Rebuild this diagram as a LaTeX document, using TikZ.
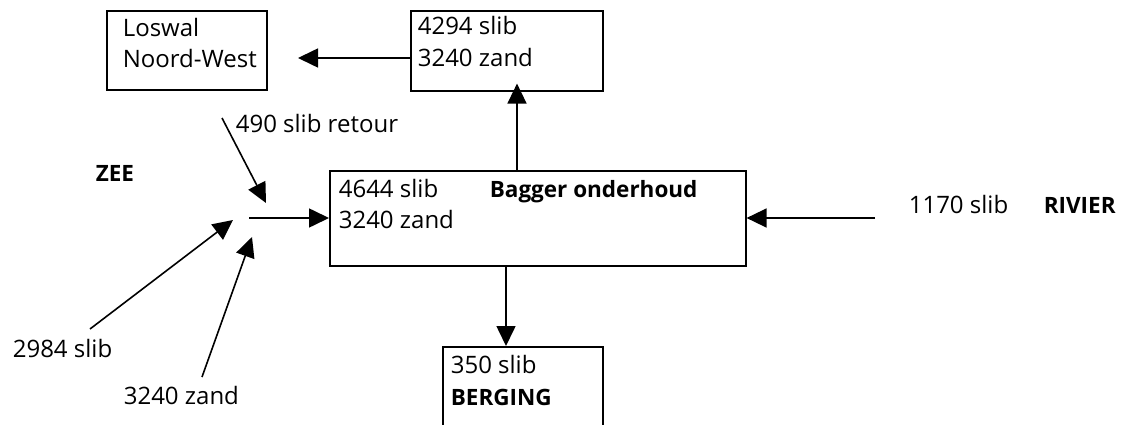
\documentclass[tikz,border=0pt]{standalone}
\usepackage{fontspec}
\setmainfont{Open Sans}
\usetikzlibrary{arrows.meta}

\begin{document}
\begin{tikzpicture}[x=1pt, y=-1pt, line width=1.6pt,
          box/.style={draw, anchor=north west, inner sep=0pt, line width=1.6pt},
          txt/.style={anchor=base west, inner sep=0pt, font=\fontsize{24}{28}\selectfont},
          hdr/.style={txt, font=\fontsize{22.5}{26}\selectfont\bfseries},
          flow/.style={-{Triangle[length=20pt,width=19pt]}}
        ]
        \useasboundingbox (0,0) rectangle (1121,425);
        \clip (0,0) rectangle (1121,425);

        % ---- boxes ----
        \node[box, minimum width=160pt, minimum height=79pt]  (loswal)  at (106,10)  {};
        \node[box, minimum width=192pt, minimum height=80pt]  (storten) at (410,10)  {};
        \node[box, minimum width=416pt, minimum height=95pt]  (bagger)  at (329,170) {};
        \node[box, minimum width=160pt, minimum height=120pt] (berging) at (442,346) {};

        % ---- texts in the boxes ----
        \node[txt] (losw1) at (122,37)  {Loswal};
        \node[txt] (losw2) at (122,68)  {Noord-West};
        \node[txt] (stor1) at (417,35)  {4294 slib};
        \node[txt] (stor2) at (417,67)  {3240 zand};
        \node[txt] (bag1)  at (338,197) {4644 slib};
        \node[hdr] (bagh)  at (489,197) {Bagger onderhoud};
        \node[txt] (bag2)  at (338,228) {3240 zand};
        \node[txt] (berg1) at (450,373) {350 slib};
        \node[hdr] (bergh) at (450,405) {BERGING};

        % ---- free texts ----
        \node[txt] (retour) at (235,132) {490 slib retour};
        \node[hdr] (zee)    at (95,181)  {ZEE};
        \node[txt] (zslib)  at (12,357)  {2984 slib};
        \node[txt] (zzand)  at (123,404) {3240 zand};
        \node[txt] (rslib)  at (908,213) {1170 slib};
        \node[hdr] (rivier) at (1043,213) {RIVIER};

        % ---- free ends of the flows ----
        \coordinate (naarlos) at (298,58);
        \coordinate (ret0)    at (222,118);
        \coordinate (ret1)    at (266,203);
        \coordinate (mix)     at (249,218);
        \coordinate (zs0)     at (90,329);
        \coordinate (zs1)     at (233,220);
        \coordinate (zz0)     at (202,377);
        \coordinate (zz1)     at (252,237);
        \coordinate (riv0)    at (875,218);
        \coordinate (opx)     at (517,0);
        \coordinate (afx)     at (506,0);

        % ---- flows ----
        \draw[flow] (naarlos -| storten.west) -- (naarlos);
        \draw[flow, shorten >=-8pt] (opx |- bagger.north) -- (opx |- storten.south);
        \draw[flow] (ret0) -- (ret1);
        \draw[flow] (zs0) -- (zs1);
        \draw[flow] (zz0) -- (zz1);
        \draw[flow] (mix) -- (mix -| bagger.west);
        \draw[flow] (riv0) -- (riv0 -| bagger.east);
        \draw[flow] (afx |- bagger.south) -- (afx |- berging.north);

      \end{tikzpicture}
\end{document}
